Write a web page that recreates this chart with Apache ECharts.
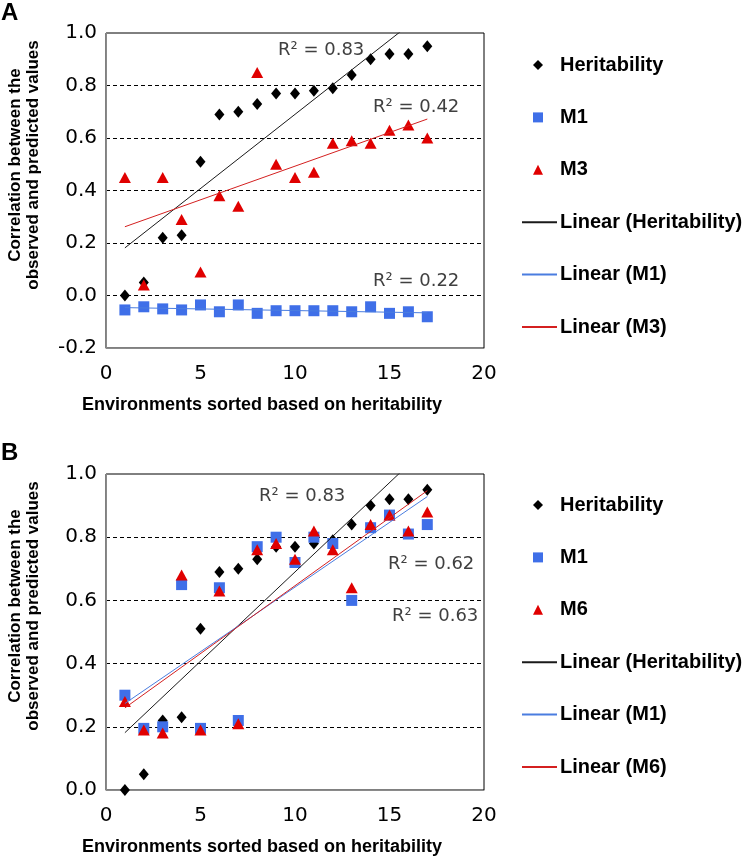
<!DOCTYPE html>
<html>
<head>
<meta charset="utf-8">
<script src="https://cdn.jsdelivr.net/npm/echarts@6/dist/echarts.min.js"></script>
<style>
html,body{margin:0;padding:0;background:#fff;}
#chart{width:746px;height:859px;}
</style>
</head>
<body>
<div id="chart"></div>
<script>
// ---------- data ----------
const environments = [1,2,3,4,5,6,7,8,9,10,11,12,13,14,15,16,17];
const heritability = [0.00,0.05,0.22,0.23,0.51,0.69,0.70,0.73,0.77,0.77,0.78,0.79,0.84,0.90,0.92,0.92,0.95];
const m1_A = [-0.055,-0.043,-0.051,-0.055,-0.036,-0.062,-0.036,-0.068,-0.058,-0.058,-0.058,-0.058,-0.062,-0.043,-0.068,-0.062,-0.081];
const m3_A = [0.45,0.04,0.45,0.29,0.09,0.38,0.34,0.85,0.50,0.45,0.47,0.58,0.59,0.58,0.63,0.65,0.60];
const m1_B = [0.30,0.195,0.20,0.65,0.195,0.64,0.22,0.77,0.80,0.72,0.80,0.78,0.60,0.83,0.87,0.81,0.84];
const m6_B = [0.28,0.19,0.18,0.68,0.19,0.63,0.21,0.76,0.78,0.73,0.82,0.76,0.64,0.84,0.87,0.82,0.88];
const yTicksA = {min:-0.2, max:1.0, interval:0.2};
const yTicksB = {min:0.0, max:1.0, interval:0.2};
const xTicks = {min:0, max:20, interval:5};
const r2Labels = {A:["R² = 0.83","R² = 0.42","R² = 0.22"], B:["R² = 0.83","R² = 0.62","R² = 0.63"]};
const markerLegendA = ["Heritability","M1","M3"];
const lineLegendA = ["Linear (Heritability)","Linear (M1)","Linear (M3)"];
const markerLegendB = ["Heritability","M1","M6"];
const lineLegendB = ["Linear (Heritability)","Linear (M1)","Linear (M6)"];
const xTitle = "Environments sorted based on heritability";
const yTitle = "Correlation between the\nobserved and predicted values";

// ---------- helpers ----------
function pairs(xs, ys){ return xs.map((x,i)=>[x, ys[i]]); }
function trend(xs, ys){
  const n = xs.length;
  const mx = xs.reduce((a,b)=>a+b,0)/n, my = ys.reduce((a,b)=>a+b,0)/n;
  let sxy=0, sxx=0;
  for(let i=0;i<n;i++){ sxy += (xs[i]-mx)*(ys[i]-my); sxx += (xs[i]-mx)*(xs[i]-mx); }
  const b = sxy/sxx, a = my - b*mx;
  const x0 = xs[0], x1 = xs[n-1];
  return [[x0, a+b*x0],[x1, a+b*x1]];
}

const C = {black:'#000000', blue:'#3f6fe8', red:'#e00000', blueLine:'#4a7de0', redLine:'#d42020', grey:'#404040'};
const tickFont = {fontFamily:'DejaVu Sans', fontSize:20, color:'#000'};

function xAxisCfg(gi){
  return {gridIndex:gi, type:'value', min:xTicks.min, max:xTicks.max, interval:xTicks.interval,
    axisLine:{show:true, onZero:false, lineStyle:{color:'#8a8a8a', width:1}},
    axisTick:{show:false}, splitLine:{show:false},
    axisLabel:Object.assign({margin:16}, tickFont)};
}
function yAxisCfg(gi, t){
  return {gridIndex:gi, type:'value', min:t.min, max:t.max, interval:t.interval,
    axisLine:{show:true, onZero:false, lineStyle:{color:'#8a8a8a', width:1}},
    axisTick:{show:false},
    splitLine:{show:true, showMinLine:false, showMaxLine:false, lineStyle:{color:'#000', type:[4,3], width:1}},
    axisLabel:Object.assign({margin:9, formatter:v=>v.toFixed(1)}, tickFont)};
}
function scatter(name, gi, data, symbol, size, color){
  return {name, type:'scatter', xAxisIndex:gi, yAxisIndex:gi, data, symbol, symbolSize:size,
    itemStyle:{color, opacity:1}, z:3};
}
function line(name, gi, data, color, z){
  return {name, type:'line', xAxisIndex:gi, yAxisIndex:gi, data, symbol:'none', showSymbol:false, clip:true,
    lineStyle:{color, width:1}, itemStyle:{color}, z:z||4, silent:true};
}

const legendText = {fontFamily:'Liberation Sans', fontWeight:'bold', fontSize:20, color:'#000', lineHeight:22};
function markerLegend(top, names, icons){
  return {orient:'vertical', left:528, top, itemWidth:10, itemHeight:10, itemGap:30.4, selectedMode:false,
    textStyle:Object.assign({padding:[0,0,0,12]}, legendText),
    data:names.map((n,i)=>({name:n, icon:icons[i]}))};
}
function lineLegend(top, names){
  return {orient:'vertical', left:517, top, itemWidth:35, itemHeight:2, itemGap:30.4, selectedMode:false,
    textStyle:Object.assign({padding:[0,0,0,-2]}, legendText),
    lineStyle:{width:1.5},
    data:names.map(n=>({name:n, icon:'rect'}))};
}

const option = {
  animation:false,
  backgroundColor:'#fff',
  grid:[
    {left:106, top:33, width:378, height:315, show:true, borderColor:'#000', borderWidth:1, backgroundColor:'transparent'},
    {left:106, top:474, width:378, height:316, show:true, borderColor:'#000', borderWidth:1, backgroundColor:'transparent'}
  ],
  xAxis:[xAxisCfg(0), xAxisCfg(1)],
  yAxis:[yAxisCfg(0, yTicksA), yAxisCfg(1, yTicksB)],
  legend:[
    markerLegend(49, markerLegendA, ['diamond','rect','triangle']),
    lineLegend(49+3*52.4, lineLegendA),
    markerLegend(489, markerLegendB, ['diamond','rect','triangle']),
    lineLegend(489+3*52.4, lineLegendB)
  ],
  series:[
    scatter('Heritability',0,pairs(environments,heritability),'diamond',[10,12],C.black),
    scatter('M1',0,pairs(environments,m1_A),'rect',11,C.blue),
    scatter('M3',0,pairs(environments,m3_A),'triangle',[12,11],C.red),
    line('Linear (Heritability)',0,trend(environments,heritability),'#1a1a1a'),
    line('Linear (M1)',0,trend(environments,m1_A),C.blueLine),
    line('Linear (M3)',0,trend(environments,m3_A),C.redLine),

    scatter('Heritability',1,pairs(environments,heritability),'diamond',[10,12],C.black),
    scatter('M1',1,pairs(environments,m1_B),'rect',11,C.blue),
    scatter('M6',1,pairs(environments,m6_B),'triangle',[12,11],C.red),
    line('Linear (Heritability)',1,trend(environments,heritability),'#1a1a1a'),
    line('Linear (M1)',1,trend(environments,m1_B),C.blueLine),
    line('Linear (M6)',1,trend(environments,m6_B),C.redLine, 5)
  ]
};

const chart = echarts.init(document.getElementById('chart'), null, {renderer:'canvas'});
chart.setOption(option);

// annotations / titles
function txt(x, y, text, extra){
  return {type:'text', x, y, z:10, style:Object.assign({text, fill:'#000'}, extra)};
}
const r2Style = {fontFamily:'DejaVu Sans', fontSize:18, fill:C.grey, textAlign:'left', textVerticalAlign:'middle'};
const titleStyle = {fontFamily:'Liberation Sans', fontWeight:'bold', fontSize:18, fill:'#000', textAlign:'center', textVerticalAlign:'middle'};
const yTitleStyle = {fontFamily:'Liberation Sans', fontWeight:'bold', fontSize:17, lineHeight:18, fill:'#000', textAlign:'center', textVerticalAlign:'middle'};
const g = [
  {type:'text', left:1, top:1, style:{text:'A', fontFamily:'Liberation Sans', fontWeight:'bold', fontSize:24, fill:'#000'}},
  {type:'text', left:1, top:441, style:{text:'B', fontFamily:'Liberation Sans', fontWeight:'bold', fontSize:24, fill:'#000'}},
  txt(278, 50, r2Labels.A[0], r2Style),
  txt(373, 107, r2Labels.A[1], r2Style),
  txt(373, 281, r2Labels.A[2], r2Style),
  txt(259, 496, r2Labels.B[0], r2Style),
  txt(388, 564, r2Labels.B[1], r2Style),
  txt(392, 616, r2Labels.B[2], r2Style),
  txt(262, 405, xTitle, titleStyle),
  txt(262, 847, xTitle, titleStyle),
  Object.assign(txt(24, 165, yTitle, yTitleStyle), {rotation:Math.PI/2}),
  Object.assign(txt(24, 606, yTitle, yTitleStyle), {rotation:Math.PI/2})
];
chart.setOption({graphic:g});
</script>
</body>
</html>
